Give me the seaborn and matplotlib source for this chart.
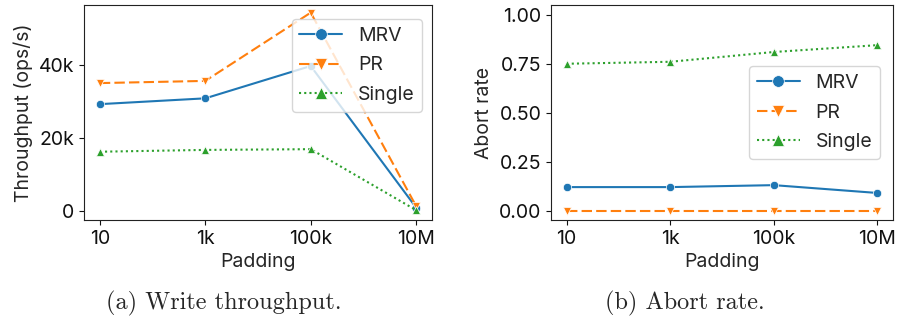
import matplotlib
matplotlib.use("Agg")
import matplotlib.pyplot as plt
import pandas as pd
import seaborn as sns

padding = ["10", "1k", "100k", "10M"]
methods = ["MRV", "PR", "Single"]

# throughput (ops/s)
tput_mrv = [29300, 30900, 39800, 800]
tput_pr = [35100, 35700, 54500, 1200]
tput_single = [16200, 16700, 16900, 100]

# abort rate
abort_mrv = [0.12, 0.12, 0.13, 0.09]
abort_pr = [0.0, 0.0, 0.0, 0.0]
abort_single = [0.75, 0.76, 0.81, 0.845]


def make_df(mrv, pr, single):
	rows = []
	for name, vals in zip(methods, [mrv, pr, single]):
		for i, v in enumerate(vals):
			rows.append({"Padding": i, "Method": name, "value": v})
	return pd.DataFrame(rows)


sns.set_style("ticks")
plt.rcParams['font.family'] = ['Inter', 'DejaVu Sans']
plt.rcParams['font.size'] = 14

palette = {"MRV": "#1f77b4", "PR": "#ff7f0e", "Single": "#2ca02c"}
dashes = {"MRV": "", "PR": (5, 2), "Single": (1, 1.5)}
markers = {"MRV": "o", "PR": "v", "Single": "^"}

fig = plt.figure(figsize=(8.97, 3.22), dpi=100)
ax1 = fig.add_axes([84 / 897, 102 / 322, 348 / 897, 215 / 322])
ax2 = fig.add_axes([551 / 897, 102 / 322, 342 / 897, 215 / 322])

df1 = make_df(tput_mrv, tput_pr, tput_single)
df2 = make_df(abort_mrv, abort_pr, abort_single)

for ax, df in [(ax1, df1), (ax2, df2)]:
	sns.lineplot(data=df, x="Padding", y="value", hue="Method", style="Method",
				 palette=palette, dashes=dashes, markers=markers, markersize=6,
				 markeredgecolor="white", markeredgewidth=0.5, ax=ax)
	ax.set_xticks(range(len(padding)))
	ax.set_xticklabels(padding)
	ax.set_xlim(-0.15, 3.15)
	ax.set_xlabel("Padding", fontsize=14)
	for s in ax.spines.values():
		s.set_color("#222222")
	ax.tick_params(colors="#111111", labelsize=14)

ax1.set_ylabel("Throughput (ops/s)", fontsize=14)
ax1.set_yticks([0, 20000, 40000])
ax1.set_yticklabels(["0", "20k", "40k"])
ax1.set_ylim(-2600, 56600)

ax2.set_ylabel("Abort rate", fontsize=14)
ax2.set_ylim(-0.048, 1.05)
ax2.set_yticks([0, 0.25, 0.5, 0.75, 1.0])
ax2.set_yticklabels(["0.00", "0.25", "0.50", "0.75", "1.00"])

ax1.legend(title=None, loc="upper right", bbox_to_anchor=(1.0, 0.98),
		   markerscale=1.4, fontsize=14, handlelength=2.2, labelspacing=0.6)
ax2.legend(title=None, loc="center right", bbox_to_anchor=(0.99, 0.5),
		   markerscale=1.4, fontsize=14, handlelength=2.2, labelspacing=0.6)

fig.text(224 / 897, 0.04, "(a) Write throughput.", ha="center", va="baseline",
		 family=["cmr10", "DejaVu Serif"], fontsize=17.5)
fig.text(685 / 897, 0.04, "(b) Abort rate.", ha="center", va="baseline",
		 family=["cmr10", "DejaVu Serif"], fontsize=17.5)

fig.savefig("out.png", dpi=100)
